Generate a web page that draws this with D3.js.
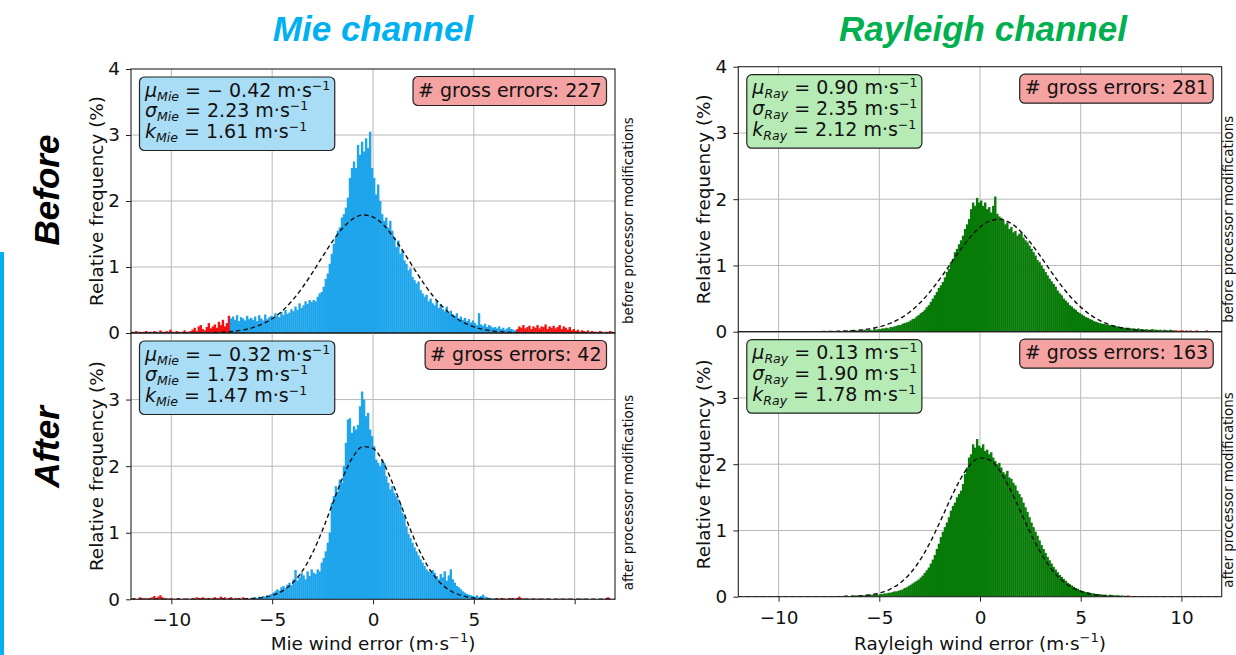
<!DOCTYPE html>
<html>
<head>
<meta charset="utf-8">
<script src="https://cdn.jsdelivr.net/npm/d3@7"></script>
<style>
  body { margin: 0; background: #fff; }
  svg { display: block; font-family: "DejaVu Sans", sans-serif; }
</style>
</head>
<body>
<svg id="chart" width="1236" height="655"></svg>
<script>
// ---- data ----
// histogram bins: 0.1 m/s wide, first bin starts at -12
const binStart = -12;
const binWidth = 0.1;

const mieBefore = [
  0.02,0,0.03,0.01,0.02,0,0.02,0.03,0,0.02,
  0.01,0.03,0.02,0,0.04,0.02,0.01,0.03,0.02,0.05,
  0.02,0.01,0.03,0.02,0,0.02,0.04,0.01,0.02,0.03,
  0.05,0.08,0.03,0.1,0.12,0.06,0.04,0.09,0.15,0.07,
  0.1,0.13,0.08,0.17,0.12,0.2,0.1,0.15,0.26,0.22,
  0.25,0.2,0.27,0.18,0.24,0.22,0.19,0.26,0.21,0.23,
  0.2,0.25,0.18,0.27,0.22,0.19,0.28,0.21,0.24,0.26,
  0.22,0.3,0.26,0.24,0.32,0.27,0.35,0.29,0.31,0.36,
  0.33,0.4,0.35,0.45,0.38,0.42,0.48,0.44,0.5,0.47,
  0.5,0.48,0.55,0.6,0.62,0.7,0.82,0.9,1.05,1.2,
  1.35,1.45,1.55,1.6,1.75,1.8,1.9,2.05,2.35,2.5,
  2.6,2.5,2.85,2.7,2.9,2.75,2.95,2.8,3.05,2.5,
  2.35,2.1,2.25,2.0,1.8,1.7,1.75,1.6,1.7,1.55,
  1.45,1.3,1.4,1.2,1.25,1.1,1.05,0.95,0.98,0.85,
  0.8,0.75,0.78,0.65,0.6,0.55,0.58,0.48,0.52,0.45,
  0.42,0.5,0.38,0.44,0.36,0.33,0.4,0.3,0.34,0.28,
  0.26,0.3,0.22,0.25,0.2,0.23,0.18,0.21,0.16,0.19,
  0.15,0.12,0.3,0.13,0.11,0.14,0.09,0.12,0.1,0.08,
  0.09,0.07,0.1,0.06,0.08,0.05,0.07,0.09,0.06,0.05,
  0.04,0.06,0.1,0.08,0.12,0.07,0.09,0.11,0.06,0.1,
  0.08,0.12,0.07,0.1,0.09,0.13,0.06,0.1,0.08,0.11,
  0.07,0.09,0.12,0.06,0.1,0.08,0.05,0.09,0.04,0.06,
  0.03,0.05,0.02,0.04,0.03,0.02,0.04,0.01,0.03,0.02,
  0.02,0.01,0.03,0.02,0,0.02,0.01,0.03,0.02,0.01
];

const mieAfter = [
  0.01,0.02,0,0.01,0.03,0.01,0.02,0.01,0,0.02,
  0.03,0.05,0.02,0.04,0.06,0.03,0.01,0.02,0,0.01,
  0,0.01,0,0.02,0,0.01,0,0,0.01,0,
  0.02,0.01,0.03,0.02,0.01,0.03,0.02,0,0.02,0.01,
  0.02,0.03,0.01,0.02,0.04,0.02,0.03,0.01,0.02,0.03,
  0.01,0.02,0.01,0.02,0.01,0.03,0.01,0.02,0.01,0.02,
  0.02,0.03,0.02,0.04,0.03,0.05,0.04,0.06,0.05,0.08,
  0.1,0.12,0.15,0.13,0.18,0.2,0.17,0.22,0.25,0.21,
  0.3,0.44,0.28,0.33,0.4,0.36,0.3,0.42,0.35,0.45,
  0.4,0.38,0.45,0.42,0.55,0.62,0.72,0.85,1.0,1.45,
  1.55,1.7,1.62,1.8,1.75,2.0,2.35,2.7,2.72,2.5,
  2.6,2.55,2.62,2.9,3.12,3.0,2.75,2.8,2.55,2.45,
  2.3,2.1,2.05,2.0,2.1,2.05,1.85,1.75,1.65,1.7,
  1.6,1.55,1.5,1.42,1.3,1.25,1.1,0.98,0.92,0.85,
  0.78,0.72,0.66,0.6,0.55,0.5,0.45,0.42,0.4,0.44,
  0.4,0.35,0.3,0.38,0.33,0.42,0.28,0.36,0.45,0.3,
  0.25,0.2,0.18,0.15,0.12,0.1,0.08,0.07,0.06,0.05,
  0.04,0.06,0.03,0.05,0.07,0.04,0.03,0.02,0.02,0.01,
  0.01,0.02,0.01,0.02,0.01,0,0.01,0.02,0.01,0.02,
  0.01,0.02,0.04,0.02,0.01,0,0.01,0.01,0,0.01,
  0,0.01,0,0,0.01,0,0,0.01,0,0,
  0,0,0.01,0,0,0,0.01,0,0,0,
  0,0,0,0.01,0,0,0,0,0,0,
  0,0,0.01,0,0,0.02,0.03,0.01,0,0
];

const rayBefore = [
  0,0,0,0,0,0,0,0,0,0,
  0,0,0,0,0,0,0,0,0,0,
  0,0,0,0,0,0,0,0.01,0,0,
  0,0,0,0.01,0,0,0,0,0.01,0,
  0,0.01,0,0,0.01,0,0.01,0,0,0.01,
  0.01,0.01,0.02,0.01,0.01,0.02,0.01,0.02,0.02,0.01,
  0.02,0.02,0.03,0.02,0.03,0.03,0.02,0.04,0.03,0.04,
  0.04,0.05,0.05,0.06,0.05,0.07,0.07,0.08,0.09,0.1,
  0.1,0.12,0.13,0.14,0.15,0.17,0.19,0.2,0.23,0.25,
  0.28,0.3,0.33,0.37,0.4,0.45,0.5,0.55,0.6,0.66,
  0.7,0.75,0.82,0.9,0.95,1.05,1.1,1.2,1.25,1.32,
  1.38,1.45,1.55,1.62,1.7,1.85,1.95,1.9,2.02,1.95,
  1.98,1.9,1.95,1.85,1.88,1.8,1.9,2.04,1.78,1.74,
  1.72,1.68,1.62,1.65,1.55,1.58,1.5,1.52,1.45,1.48,
  1.5,1.42,1.38,1.35,1.3,1.25,1.2,1.15,1.08,1.05,
  1.0,0.95,0.9,0.85,0.8,0.76,0.72,0.68,0.62,0.58,
  0.55,0.5,0.47,0.44,0.4,0.38,0.35,0.33,0.3,0.28,
  0.26,0.24,0.22,0.21,0.19,0.18,0.16,0.15,0.14,0.13,
  0.12,0.12,0.11,0.1,0.1,0.09,0.09,0.08,0.08,0.07,
  0.07,0.06,0.06,0.06,0.05,0.05,0.05,0.04,0.05,0.04,
  0.04,0.03,0.04,0.03,0.03,0.04,0.03,0.03,0.02,0.03,
  0.02,0.03,0.02,0.02,0.03,0.02,0.02,0.02,0.01,0.02,
  0.02,0.01,0.02,0.01,0.02,0.01,0.01,0.02,0.01,0.01,
  0.01,0.01,0.02,0.01,0.01,0,0.01,0.01,0,0.01
];

const rayAfter = [
  0,0,0,0,0,0,0,0,0,0,
  0,0,0,0,0,0,0,0,0,0,
  0,0,0,0,0,0,0,0,0,0,
  0,0,0,0.01,0,0.01,0,0,0,0,
  0,0,0,0.01,0,0,0.01,0,0.01,0.01,
  0.01,0.01,0.01,0.02,0.01,0.01,0.02,0.01,0.02,0.02,
  0.02,0.02,0.02,0.03,0.02,0.03,0.03,0.03,0.04,0.03,
  0.04,0.04,0.05,0.05,0.06,0.06,0.07,0.08,0.08,0.09,
  0.1,0.11,0.13,0.14,0.16,0.18,0.2,0.22,0.24,0.26,
  0.29,0.32,0.36,0.4,0.44,0.5,0.56,0.63,0.72,0.8,
  0.9,0.98,1.05,1.12,1.2,1.3,1.37,1.42,1.5,1.55,
  1.6,1.7,1.85,1.95,2.1,2.15,2.3,2.25,2.38,2.28,
  2.25,2.3,2.2,2.22,2.15,2.18,2.1,2.05,2.0,2.02,
  1.95,1.88,1.85,1.9,1.8,1.78,1.72,1.68,1.6,1.55,
  1.5,1.42,1.35,1.28,1.2,1.12,1.05,0.98,0.92,0.85,
  0.78,0.72,0.66,0.6,0.55,0.5,0.45,0.41,0.37,0.33,
  0.3,0.27,0.24,0.21,0.19,0.17,0.15,0.13,0.12,0.1,
  0.09,0.08,0.07,0.07,0.06,0.05,0.05,0.04,0.04,0.04,
  0.03,0.03,0.03,0.02,0.03,0.02,0.02,0.02,0.02,0.01,
  0.02,0.01,0.01,0.02,0.01,0.01,0.01,0.01,0,0.01,
  0,0.01,0,0,0,0.01,0,0,0,0,
  0,0,0,0,0.01,0,0,0,0,0,
  0,0,0,0,0,0,0,0,0,0,
  0,0,0,0,0,0,0,0,0,0
];

// dashed fit curves, sampled every 0.5 m/s
const fitX = [-12,-11.5,-11,-10.5,-10,-9.5,-9,-8.5,-8,-7.5,-7,-6.5,-6,-5.5,-5,-4.5,-4,-3.5,-3,-2.5,-2,-1.5,-1,-0.5,
  0,0.5,1,1.5,2,2.5,3,3.5,4,4.5,5,5.5,6,6.5,7,7.5,8,8.5,9,9.5,10,10.5,11,11.5,12];
const mieBeforeFit = [0,0,0,0,0,0,0.001,0.002,0.006,0.012,0.023,0.044,0.078,0.134,0.217,0.335,0.493,0.689,0.916,1.158,
  1.392,1.591,1.729,1.788,1.757,1.643,1.461,1.235,0.993,0.759,0.552,0.382,0.251,0.157,0.093,0.053,0.028,0.015,0.007,0.003,
  0.001,0,0,0,0,0,0,0,0];
const mieAfterFit = [0,0,0,0,0,0,0,0,0,0,0.001,0.004,0.011,0.026,0.059,0.124,0.24,0.426,0.695,1.043,
  1.439,1.828,2.135,2.294,2.267,2.061,1.724,1.326,0.938,0.611,0.366,0.201,0.102,0.048,0.02,0.008,0.003,0.001,0,0,
  0,0,0,0,0,0,0,0,0];
const rayBeforeFit = [0,0,0,0,0,0.0001,0.0002,0.0006,0.0013,0.0029,0.006,0.012,0.023,0.042,0.073,0.121,0.193,0.294,0.428,0.596,
  0.793,1.008,1.224,1.422,1.578,1.673,1.696,1.643,1.521,1.346,1.139,0.921,0.711,0.525,0.371,0.25,0.161,0.099,0.059,0.033,
  0.018,0.009,0.0045,0.002,0.0009,0.0004,0.0001,0,0];
const rayAfterFit = [0,0,0,0,0,0,0,0,0,0.0007,0.0018,0.0048,0.0115,0.026,0.055,0.108,0.198,0.339,0.541,0.805,
  1.12,1.453,1.759,1.987,2.095,2.06,1.891,1.619,1.294,0.964,0.671,0.435,0.264,0.149,0.079,0.039,0.018,0.0076,0.003,0.001,
  0,0,0,0,0,0,0,0,0];

// statistics shown in the boxes: mean, std, k
const mieBeforeStats = [-0.42, 2.23, 1.61];
const mieAfterStats = [-0.32, 1.73, 1.47];
const rayBeforeStats = [0.90, 2.35, 2.12];
const rayAfterStats = [0.13, 1.90, 1.78];
const statSymbols = ["μ", "σ", "k"];
const grossErrors = [227, 42, 281, 163];
// limits outside which bins are counted as gross errors (red)
const grossLimits = [[-7.1, 7.1], [-6.1, 6.1], [-7.6, 9.6], [-7.2, 7.2]];

const xTicks = [-10, -5, 0, 5, 10];
const yTicksTop = [0, 1, 2, 3, 4];
const yTicksBottom = [0, 1, 2, 3];

// ---- styling / layout ----
const mieBlue = "#1ea5eb";
const rayGreen = "#077a07";
const grossRed = "#f41010";
const titleBlue = "#00b0f0";
const titleGreen = "#00b050";
const fs = 18.4;      // matplotlib axis text size
const fsBox = 19;     // annotation boxes
const fsSmall = 12.5; // sub/superscripts

const svg = d3.select("#chart");
svg.append("rect").attr("width", 1236).attr("height", 655).attr("fill", "#fff");

const panels = [
  { hist: mieBefore, fit: mieBeforeFit, stats: mieBeforeStats, gross: grossErrors[0], lim: grossLimits[0],
    color: mieBlue, boxFill: "#a9dcf5", sub: "Mie", x0: 131, x1: 615, y0: 69, y1: 333,
    yTicks: yTicksTop, xLabels: null, side: "before processor modifications", sideX: 633 },
  { hist: mieAfter, fit: mieAfterFit, stats: mieAfterStats, gross: grossErrors[1], lim: grossLimits[1],
    color: mieBlue, boxFill: "#a9dcf5", sub: "Mie", x0: 131, x1: 615, y0: 333, y1: 599.3,
    yTicks: yTicksBottom, xLabels: [-10, -5, 0, 5], xTitle: "Mie wind error (m·s",
    side: "after processor modifications", sideX: 633 },
  { hist: rayBefore, fit: rayBeforeFit, stats: rayBeforeStats, gross: grossErrors[2], lim: grossLimits[2],
    color: rayGreen, boxFill: "#b6ebb6", sub: "Ray", x0: 738.3, x1: 1221.7, y0: 66.7, y1: 331.7,
    yTicks: yTicksTop, xLabels: null, side: "before processor modifications", sideX: 1233 },
  { hist: rayAfter, fit: rayAfterFit, stats: rayAfterStats, gross: grossErrors[3], lim: grossLimits[3],
    color: rayGreen, boxFill: "#b6ebb6", sub: "Ray", x0: 738.3, x1: 1221.7, y0: 331.7, y1: 596.7,
    yTicks: yTicksBottom, xLabels: xTicks, xTitle: "Rayleigh wind error (m·s",
    side: "after processor modifications", sideX: 1233 }
];

const fmtNum = v => (v < 0 ? "− " + Math.abs(v).toFixed(2) : v.toFixed(2));

panels.forEach((p, pi) => {
  const x = d3.scaleLinear().domain([-12, 12]).range([p.x0, p.x1]);
  const y = d3.scaleLinear().domain([0, 4]).range([p.y1, p.y0]);
  const g = svg.append("g");

  g.append("clipPath").attr("id", "clip" + pi)
    .append("rect").attr("x", p.x0).attr("y", p.y0).attr("width", p.x1 - p.x0).attr("height", p.y1 - p.y0);

  // grid
  g.append("g").selectAll("line").data(xTicks).join("line")
    .attr("x1", d => x(d)).attr("x2", d => x(d)).attr("y1", p.y0).attr("y2", p.y1)
    .attr("stroke", "#b8b8b8").attr("stroke-width", 1);
  g.append("g").selectAll("line").data([1, 2, 3]).join("line")
    .attr("x1", p.x0).attr("x2", p.x1).attr("y1", d => y(d)).attr("y2", d => y(d))
    .attr("stroke", "#b8b8b8").attr("stroke-width", 1);

  // histogram
  const bins = p.hist.map((v, i) => ({ x0: binStart + i * binWidth, v }));
  const bw = x(binWidth) - x(0);
  g.append("g").attr("clip-path", `url(#clip${pi})`)
    .selectAll("rect").data(bins.filter(b => b.v > 0)).join("rect")
    .attr("x", b => x(b.x0)).attr("width", bw + 0.35)
    .attr("y", b => y(b.v)).attr("height", b => y(0) - y(b.v))
    .attr("fill", b => (b.x0 < p.lim[0] - 1e-9 || b.x0 >= p.lim[1] - 1e-9) ? grossRed : p.color);

  // fitted normal curve
  const line = d3.line().x((d, i) => x(fitX[i])).y(d => y(d)).curve(d3.curveMonotoneX);
  g.append("path").attr("d", line(p.fit)).attr("fill", "none")
    .attr("stroke", "#111").attr("stroke-width", 1.4).attr("stroke-dasharray", "4.5,3")
    .attr("clip-path", `url(#clip${pi})`);

  // frame
  g.append("rect").attr("x", p.x0).attr("y", p.y0).attr("width", p.x1 - p.x0).attr("height", p.y1 - p.y0)
    .attr("fill", "none").attr("stroke", "#222").attr("stroke-width", 1.1);

  // y axis
  const ya = g.append("g").attr("transform", `translate(${p.x0},0)`)
    .call(d3.axisLeft(y).tickValues(p.yTicks).tickSize(5).tickPadding(6).tickFormat(d3.format("d")));
  ya.select(".domain").remove();
  ya.selectAll("text").attr("font-size", fs).attr("font-family", "DejaVu Sans").attr("fill", "#111");
  ya.selectAll("line").attr("stroke", "#222");

  // x axis
  if (p.xLabels) {
    const xa = g.append("g").attr("transform", `translate(0,${p.y1})`)
      .call(d3.axisBottom(x).tickValues(xTicks).tickSize(5).tickPadding(9)
        .tickFormat(d => p.xLabels.includes(d) ? d3.format("d")(d) : ""));
    xa.select(".domain").remove();
    xa.selectAll("text").attr("font-size", fs).attr("font-family", "DejaVu Sans").attr("fill", "#111");
    xa.selectAll("line").attr("stroke", "#222");

    const xt = g.append("text").attr("x", (p.x0 + p.x1) / 2).attr("y", 649.5)
      .attr("text-anchor", "middle").attr("font-size", fs).attr("fill", "#111");
    xt.append("tspan").text(p.xTitle);
    xt.append("tspan").attr("font-size", 13).attr("dy", -8).text("−1");
    xt.append("tspan").attr("dy", 8).text(")");
  }

  // y label
  g.append("text").attr("transform", `translate(${p.x0 - 28},${(p.y0 + p.y1) / 2}) rotate(-90)`)
    .attr("text-anchor", "middle").attr("font-size", fs).attr("fill", "#111")
    .text("Relative frequency (%)");

  // side note
  g.append("text").attr("transform", `translate(${p.sideX},${p.y1 - 9}) rotate(-90)`)
    .attr("font-size", 13.4).attr("fill", "#111").text(p.side);

  // stats box
  const sb = g.append("g");
  const lines = p.stats.map((v, i) => {
    const t = sb.append("text").attr("x", p.x0 + 14).attr("y", p.y0 + 27.7 + i * 20.7)
      .attr("font-size", fsBox).attr("fill", "#111");
    t.append("tspan").attr("font-style", "italic").text(statSymbols[i]);
    t.append("tspan").attr("font-style", "italic").attr("font-size", fsSmall).attr("dy", 4).text(p.sub);
    t.append("tspan").attr("dy", -4).text(" = " + fmtNum(v) + " m·s");
    t.append("tspan").attr("font-size", fsSmall).attr("dy", -7).text("−1");
    return t;
  });
  let bx0 = Infinity, bx1 = -Infinity;
  lines.forEach(t => {
    const b = t.node().getBBox();
    bx0 = Math.min(bx0, b.x);
    bx1 = Math.max(bx1, b.x + b.width);
  });
  sb.insert("rect", "text").attr("x", bx0 - 4.5).attr("y", p.y0 + 8).attr("width", bx1 - bx0 + 9)
    .attr("height", 73.5).attr("rx", 5).attr("fill", p.boxFill)
    .attr("stroke", "#222").attr("stroke-width", 1.2);

  // gross errors box
  const gb = g.append("g");
  const gt = gb.append("text").attr("x", p.x1 - 13.5).attr("y", p.y0 + 27.5)
    .attr("text-anchor", "end").attr("font-size", fsBox).attr("fill", "#111")
    .text("# gross errors: " + p.gross);
  const b = gt.node().getBBox();
  gb.insert("rect", "text").attr("x", b.x - 5).attr("y", p.y0 + 7.5).attr("width", b.width + 10)
    .attr("height", 29).attr("rx", 5).attr("fill", "#f4a2a2")
    .attr("stroke", "#222").attr("stroke-width", 1.2);
});

// column titles
const titleFont = "Liberation Sans, Arial, sans-serif";
svg.append("text").attr("x", 373).attr("y", 41).attr("text-anchor", "middle")
  .attr("font-family", titleFont).attr("font-weight", "bold").attr("font-style", "italic")
  .attr("font-size", 35).attr("fill", titleBlue).text("Mie channel");
svg.append("text").attr("x", 983).attr("y", 41).attr("text-anchor", "middle")
  .attr("font-family", titleFont).attr("font-weight", "bold").attr("font-style", "italic")
  .attr("font-size", 35).attr("fill", titleGreen).text("Rayleigh channel");

// row labels
[["Before", 190], ["After", 447]].forEach(([txt, cy]) => {
  svg.append("text").attr("transform", `translate(59,${cy}) rotate(-90)`).attr("text-anchor", "middle")
    .attr("font-family", titleFont).attr("font-weight", "bold").attr("font-style", "italic")
    .attr("font-size", 35).attr("fill", "#000").text(txt);
});

// blue accent bar at the left edge
svg.append("rect").attr("x", 0).attr("y", 252).attr("width", 4).attr("height", 403).attr("fill", titleBlue);
</script>
</body>
</html>
